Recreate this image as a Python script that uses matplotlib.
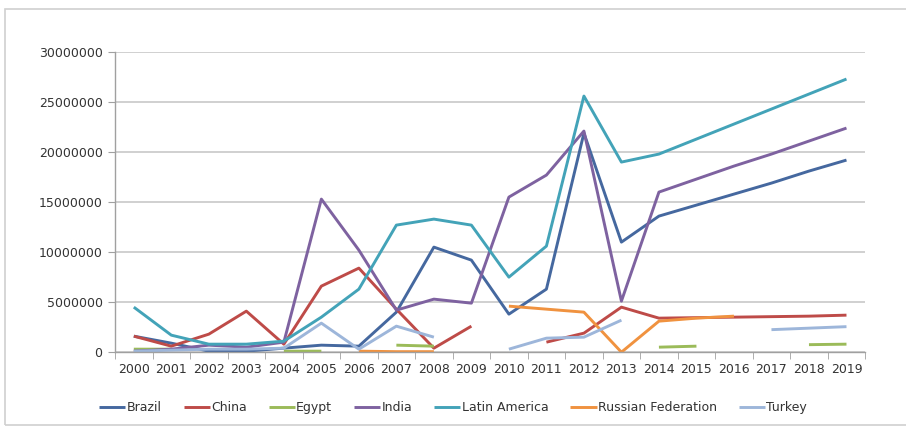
import numpy as np
import matplotlib
matplotlib.use('Agg')
import matplotlib.pyplot as plt
from matplotlib.patches import Rectangle

nan = np.nan

# data
years = [str(y) for y in range(2000, 2020)]
brazil = [1.6, 0.9, 0.1, 0.1, 0.4, 0.7, 0.6, 4.0, 10.5, 9.2, 3.8, 6.3, 21.9, 11.0, 13.6, 14.7, 15.8, 16.9, 18.1, 19.2]
china = [1.6, 0.6, 1.8, 4.1, 0.8, 6.6, 8.4, 4.3, 0.4, 2.6, nan, 1.0, 1.9, 4.5, 3.4, 3.45, 3.5, 3.55, 3.6, 3.7]
egypt = [0.3, 0.3, nan, nan, 0.1, 0.1, nan, 0.7, 0.6, nan, nan, nan, nan, nan, 0.5, 0.6, nan, nan, 0.75, 0.8]
india = [0.1, 0.3, 0.7, 0.5, 1.0, 15.3, 10.2, 4.2, 5.3, 4.9, 15.5, 17.7, 22.1, 5.1, 16.0, 17.3, 18.6, 19.8, 21.1, 22.4]
latin_america = [4.5, 1.7, 0.8, 0.8, 1.1, 3.5, 6.3, 12.7, 13.3, 12.7, 7.5, 10.6, 25.6, 19.0, 19.8, 21.3, 22.8, 24.3, 25.8, 27.3]
russia = [nan, nan, nan, nan, nan, nan, 0.1, 0.05, 0.05, nan, 4.6, 4.3, 4.0, 0.0, 3.1, 3.4, 3.6, nan, nan, nan]
turkey = [0.1, 0.2, 0.3, 0.3, 0.4, 2.9, 0.3, 2.6, 1.5, nan, 0.3, 1.4, 1.5, 3.2, nan, nan, nan, 2.25, 2.4, 2.55]

series_names = ["Brazil", "China", "Egypt", "India", "Latin America", "Russian Federation", "Turkey"]
series_vals = [brazil, china, egypt, india, latin_america, russia, turkey]
colors = ['#45689F', '#BE4B48', '#9BBB59', '#7E62A0', '#43A3B8', '#F0923F', '#9DB6DA']

fig = plt.figure(figsize=(9.06, 4.30), dpi=100)
ax = fig.add_axes([0.127, 0.181, 0.828, 0.698])

x = np.arange(len(years))
for name, vals, c in zip(series_names, series_vals, colors):
    ax.plot(x, np.array(vals) * 1e6, color=c, lw=2.1, label=name, solid_capstyle='butt')

ax.set_xlim(-0.5, len(years) - 0.5)
ax.set_ylim(0, 30000000)
ax.set_yticks(np.arange(0, 30000001, 5000000))
ax.set_yticklabels([str(v) for v in range(0, 30000001, 5000000)])
ax.set_xticks(x)
ax.set_xticklabels(years)
ax.set_xticks(np.arange(-0.5, len(years)), minor=True)
ax.tick_params(axis='x', which='major', length=0, pad=8, labelsize=9, colors='#333333')
ax.tick_params(axis='x', which='minor', length=5, color='#A0A0A0', direction='out')
ax.tick_params(axis='y', length=5, color='#A0A0A0', labelsize=9, labelcolor='#333333', pad=4)

ax.grid(axis='y', color='#C8C8C8', lw=1.2)
ax.set_axisbelow(True)
for s in ['top', 'right']:
    ax.spines[s].set_visible(False)
for s in ['left', 'bottom']:
    ax.spines[s].set_color('#A0A0A0')
    ax.spines[s].set_linewidth(1.0)

fig.legend(loc='center', bbox_to_anchor=(0.50, 0.052), ncol=7, frameon=False,
           fontsize=9, handlelength=2.1, handletextpad=0.1, columnspacing=1.75,
           labelcolor='#333333')

# outer chart border
fig.patches.append(Rectangle((0.006, 0.012), 1.2, 0.967, transform=fig.transFigure,
                             fill=False, edgecolor='#D0D0D0', lw=1.2))

fig.savefig('out.png', dpi=100)
